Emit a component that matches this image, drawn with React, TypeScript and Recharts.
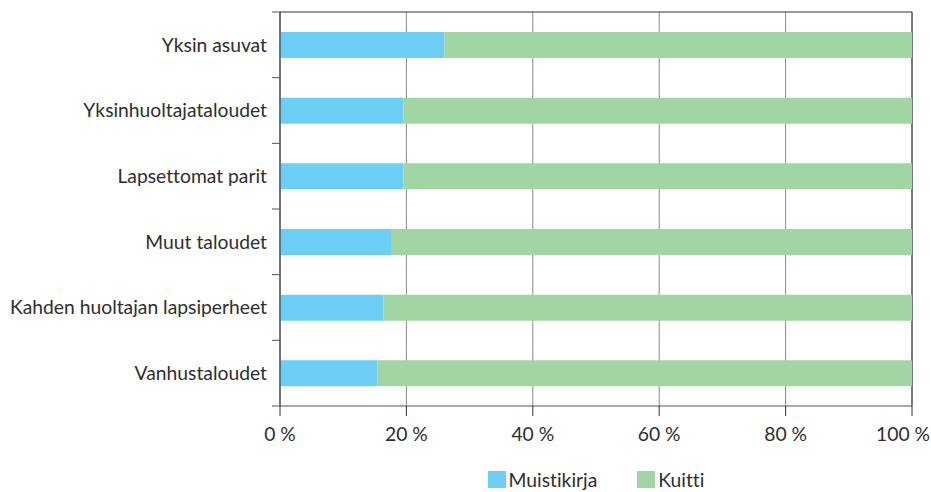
import React from 'react';
import { BarChart, Bar, XAxis, YAxis, CartesianGrid, Legend } from 'recharts';

const categories = [
  'Yksin asuvat',
  'Yksinhuoltajataloudet',
  'Lapsettomat parit',
  'Muut taloudet',
  'Kahden huoltajan lapsiperheet',
  'Vanhustaloudet',
];
const muistikirja = [26.0, 19.5, 19.5, 17.7, 16.4, 15.4];
const kuitti = muistikirja.map((v) => 100 - v);
const xTicks = [0, 20, 40, 60, 80, 100];

const seriesKeys = ['m', 'k'];
const seriesNames = ['Muistikirja', 'Kuitti'];
const seriesColors = ['#6DCFF6', '#A2D5A4'];

const data = categories.map((c, i) => ({ name: c, m: muistikirja[i], k: kuitti[i] }));

const FONT = 'Lato, sans-serif';
const FS = 19.3;
const TEXT = '#2e2e2e';
const noLig = { fontVariantLigatures: 'none' as const };

const LegendContent = () => (
  <div style={{ display: 'flex', justifyContent: 'center', height: 26, alignItems: 'center', fontFamily: FONT, fontSize: FS, color: TEXT, ...noLig }}>
    {seriesNames.map((n, i) => (
      <div key={n} style={{ display: 'flex', alignItems: 'center', marginRight: i === 0 ? 40 : 0 }}>
        <span style={{ display: 'inline-block', width: 18, height: 17, background: seriesColors[i], marginRight: 3 }} />
        <span>{n}</span>
      </div>
    ))}
  </div>
);

const CategoryTick = (props: any) => {
  const { x, y, payload, index, visibleTicksCount } = props;
  const half = payload && payload.offset ? payload.offset : 32.8;
  const axisX = x + 5;
  const isLast = index === (visibleTicksCount ?? categories.length) - 1;
  return (
    <g>
      <line x1={axisX} y1={y - half} x2={axisX + 8} y2={y - half} stroke="#555" />
      {isLast && <line x1={axisX} y1={y + half} x2={axisX + 8} y2={y + half} stroke="#555" />}
      <text x={x} y={y} dy="0.355em" textAnchor="end" fill={TEXT} fontSize={FS} fontFamily={FONT} style={noLig}>
        {payload.value}
      </text>
    </g>
  );
};

const ValueTick = (props: any) => {
  const { x, y, payload, index, visibleTicksCount } = props;
  const isLast = index === (visibleTicksCount ?? xTicks.length) - 1;
  return (
    <text
      x={isLast ? x + 18 : x}
      y={y}
      dy="0.71em"
      textAnchor={isLast ? 'end' : 'middle'}
      fill={TEXT}
      fontSize={FS}
      fontFamily={FONT}
      style={noLig}
    >
      {`${payload.value} %`}
    </text>
  );
};

export default function App() {
  return (
    <div style={{ position: 'absolute', left: 0, top: 0, width: 931, height: 492, background: '#fff' }}>
      <BarChart
        width={931}
        height={492}
        data={data}
        layout="vertical"
        margin={{ top: 12, right: 19, left: 0, bottom: 0 }}
        barSize={26}
      >
        <CartesianGrid horizontal={false} stroke="#8a8a8a" strokeWidth={1} />
        <CartesianGrid
          stroke="#333"
          horizontalCoordinatesGenerator={({ offset }: any) => [offset.top]}
          verticalCoordinatesGenerator={({ offset }: any) => [offset.left + offset.width]}
        />
        <YAxis
          type="category"
          dataKey="name"
          width={280}
          axisLine={{ stroke: '#222' }}
          tickLine={false}
          tickSize={8}
          tickMargin={5}
          tick={<CategoryTick />}
        />
        <XAxis
          type="number"
          domain={[0, 100]}
          ticks={xTicks}
          axisLine={{ stroke: '#555' }}
          tickLine={{ stroke: '#333' }}
          tickSize={10}
          tickMargin={11}
          height={60}
          tick={<ValueTick />}
        />
        <Legend
          verticalAlign="bottom"
          content={<LegendContent />}
          wrapperStyle={{ left: 280, width: 632, top: 466 }}
        />
        {seriesKeys.map((k, i) => (
          <Bar key={k} dataKey={k} name={seriesNames[i]} stackId="a" fill={seriesColors[i]} isAnimationActive={false} />
        ))}
      </BarChart>
    </div>
  );
}
